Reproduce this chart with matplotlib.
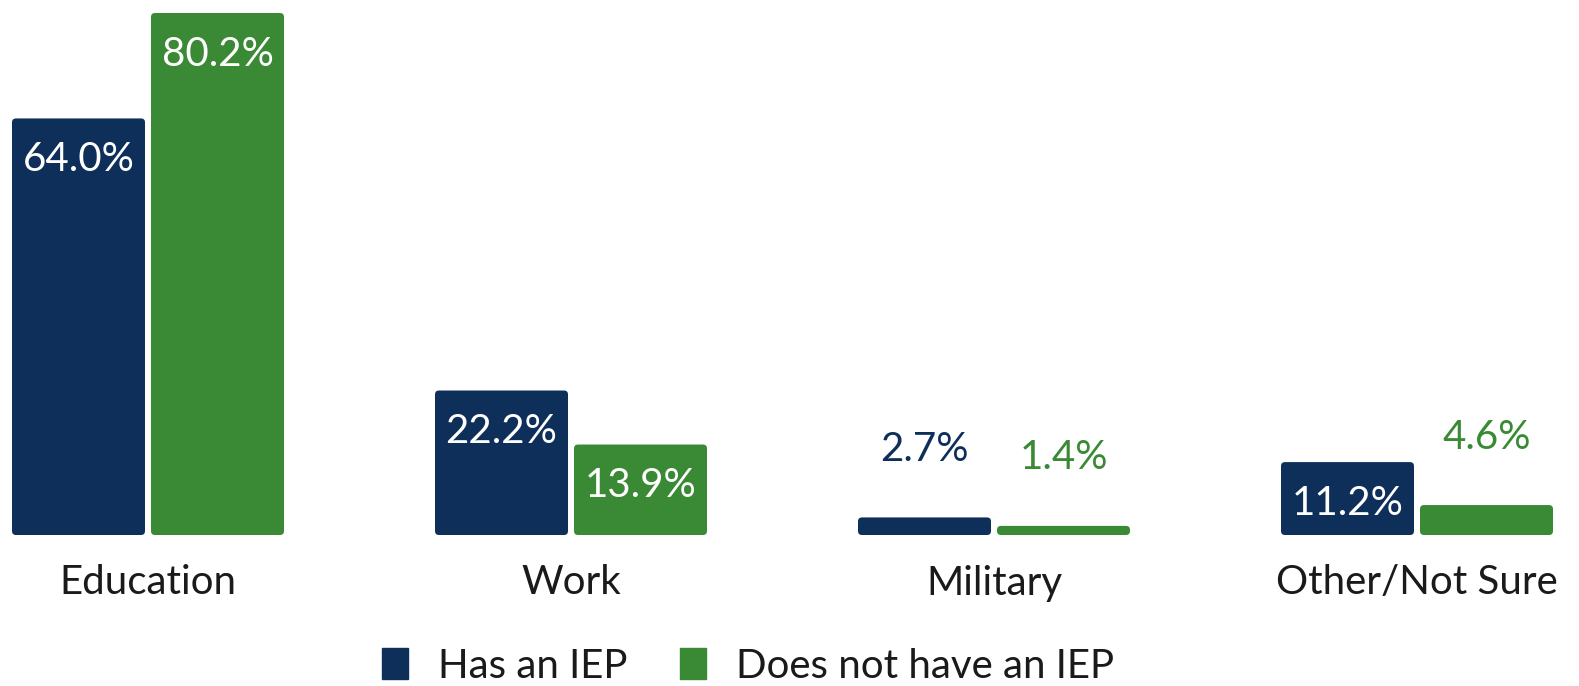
import matplotlib
matplotlib.use("Agg")
import matplotlib.pyplot as plt
from matplotlib.patches import Patch, FancyBboxPatch

categories = ["Education", "Work", "Military", "Other/Not Sure"]
has_iep = [64.0, 22.2, 2.7, 11.2]
no_iep = [80.2, 13.9, 1.4, 4.6]
series_names = ["Has an IEP", "Does not have an IEP"]
NAVY = "#0d2f5a"
GREEN = "#3a8a35"

plt.rcParams['font.family'] = ['Lato', 'DejaVu Sans']
W, H = 1579, 686
fig = plt.figure(figsize=(W/100, H/100), dpi=100)
ax = fig.add_axes([0, 151/H, 1, 522/H])
ax.set_xlim(-148/423, (W-148)/423)
ax.set_ylim(0, 80.2)
for s in ax.spines.values():
    s.set_visible(False)
ax.set_xticks([])
ax.set_yticks([])

bw = 133/423
off = 139/2/423
x = list(range(len(categories)))
b1 = ax.bar([i - off for i in x], has_iep, width=bw, color=NAVY)
b2 = ax.bar([i + off for i in x], no_iep, width=bw, color=GREEN)

# give bars slightly rounded corners
px_x = 423.0
px_y = 522/80.2
for bars in (b1, b2):
    for r in bars:
        r.set_visible(False)
        fb = FancyBboxPatch((r.get_x(), 0), r.get_width(), r.get_height(),
                            boxstyle=f"round,pad=0,rounding_size={4/px_x}",
                            mutation_aspect=px_x/px_y, facecolor=r.get_facecolor(),
                            edgecolor="none")
        ax.add_patch(fb)

fs = 29
for bars, vals, col in [(b1, has_iep, NAVY), (b2, no_iep, GREEN)]:
    for r, v in zip(bars, vals):
        cx = r.get_x() + r.get_width()/2
        if v >= 8:
            ax.annotate(f"{v:.1f}%", (cx, v), xytext=(0, -41), textcoords="offset pixels",
                        ha="center", va="center", color="white", fontsize=fs)
        else:
            ax.annotate(f"{v:.1f}%", (cx, v), xytext=(0, 68), textcoords="offset pixels",
                        ha="center", va="center", color=col, fontsize=fs)

for i, c in enumerate(categories):
    ax.annotate(c, (i, 0), xytext=(0, -48), textcoords="offset pixels",
                ha="center", va="center", color="#1a1a1a", fontsize=fs)

handles = [Patch(color=NAVY), Patch(color=GREEN)]
fig.legend(handles, series_names, loc="center", bbox_to_anchor=(748/W, 1 - 666/H),
           ncol=2, frameon=False, fontsize=fs, handlelength=0.65, handleheight=0.8,
           handletextpad=0.75, columnspacing=1.3, labelcolor="#1a1a1a")

fig.savefig("out.png", dpi=100)
